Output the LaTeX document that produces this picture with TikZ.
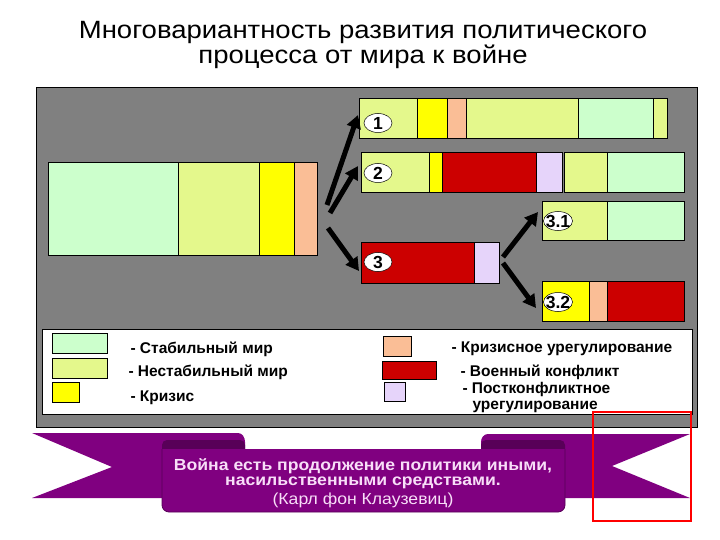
\documentclass[tikz,border=0pt]{standalone}
\usepackage{fontspec}
\setmainfont{Liberation Sans}
\newfontfamily\widefont[FakeStretch=1.1]{Liberation Sans}
\usepackage{xcolor}
\usepackage{tikz}
\usetikzlibrary{arrows.meta,shapes.geometric}

\definecolor{stablec}{RGB}{204,255,204}
\definecolor{unstablec}{RGB}{228,248,140}
\definecolor{crisisc}{RGB}{255,255,0}
\definecolor{settlec}{RGB}{250,190,150}
\definecolor{warc}{RGB}{204,0,0}
\definecolor{postc}{RGB}{230,212,250}
\definecolor{panelc}{RGB}{128,128,128}
\definecolor{ribbonc}{RGB}{128,0,128}
\definecolor{foldc}{RGB}{88,0,88}
\definecolor{quotec}{RGB}{248,222,248}

\begin{document}
\begin{tikzpicture}[x=1pt,y=-1pt,
    numtag/.style={ellipse,draw=black,fill=white,line width=0.5pt,inner xsep=-3pt,
        inner ysep=0pt,minimum width=28pt,minimum height=19pt,
        font=\fontsize{17.5}{17.5}\selectfont\bfseries},
    fork/.style={line width=5pt,-{Triangle[length=13pt,width=14pt]}},
    legendtext/.style={anchor=west,font=\fontsize{15.5}{16}\selectfont\bfseries,align=left},
    quote/.style={text=quotec,font=\widefont\fontsize{16}{16}\selectfont\bfseries}]
    \useasboundingbox (0,0) rectangle (720,540);

    \node[font=\widefont\fontsize{25}{25}\selectfont] (title1) at (363,32)
        {Многовариантность развития политического};
    \node[font=\widefont\fontsize{25}{25}\selectfont] (title2) at (363,57)
        {процесса от мира к войне};

    \fill[panelc] (36,88) rectangle (697,427);
    \draw[black,line width=1pt] (36,88) rectangle (697,427);

    \newcommand{\drawbar}[3]{%
        \foreach \xa/\xb/\c in {#3} {
            \fill[\c] (\xa,#1) rectangle (\xb,#2);
            \draw[black,line width=0.8pt] (\xa,#1) rectangle (\xb,#2);
        }
    }
    \drawbar{162}{255}{48/178/stablec,178/259/unstablec,259/294/crisisc,294/317/settlec}
    \drawbar{98}{138}{359/417/unstablec,417/447/crisisc,447/466/settlec,
        466/578/unstablec,578/653/stablec,653/667/unstablec}
    \drawbar{152}{192}{361/429/unstablec,429/442/crisisc,442/536/warc,536/562/postc,
        564/607/unstablec,607/684/stablec}
    \drawbar{201}{240}{542/607/unstablec,607/684/stablec}
    \drawbar{242}{283}{361/474/warc,474/499/postc}
    \drawbar{281}{321}{542/589/crisisc,589/607/settlec,607/684/warc}

    \node[numtag] (tag1) at (378,123) {1};
    \node[numtag] (tag2) at (378,173) {2};
    \node[numtag] (tag3) at (378,262) {3};
    \node[numtag,minimum width=29pt] (tag31) at (558,221) {3.1};
    \node[numtag,minimum width=29pt] (tag32) at (558,302) {3.2};

    \coordinate (from1) at (327,205);  \coordinate (to1) at (358,115);
    \coordinate (from2) at (330,213);  \coordinate (to2) at (358,166);
    \coordinate (from3) at (328,228);  \coordinate (to3) at (359,271);
    \coordinate (from31) at (503,257); \coordinate (to31) at (538,212);
    \coordinate (from32) at (503,263); \coordinate (to32) at (536,308);
    \foreach \a/\b in {from1/to1,from2/to2,from3/to3,from31/to31,from32/to32}
        \draw[fork] (\a) -- (\b);

    \fill[white] (42,329) rectangle (692,414);
    \draw[black,line width=0.8pt] (42,329) rectangle (692,414);
    \foreach \xa/\ya/\xb/\yb/\c in {52/333/107/353/stablec,52/358/107/378/unstablec,
        52/382/79/402/crisisc,383/336/411/356/settlec,382/361/436/379/warc,
        384/382/405/401/postc}
        \draw[black,line width=0.6pt,fill=\c] (\xa,\ya) rectangle (\xb,\yb);
    \node[legendtext] (stable) at (127,349) {- Стабильный мир};
    \node[legendtext] (unstable) at (125,372) {- Нестабильный мир};
    \node[legendtext] (crisis) at (127,398) {- Кризис};
    \node[legendtext] (settle) at (448,349) {- Кризисное урегулирование};
    \node[legendtext] (war) at (457,372) {- Военный конфликт};
    \node[legendtext] (post) at (459,397)
        {- Постконфликтное\\\hspace*{10pt}урегулирование};

    \fill[ribbonc] (32,433) -- (238,433) to[out=0,in=90] (245,442) -- (245,498)
        -- (32,498) -- (112,467) -- cycle;
    \fill[ribbonc] (690,434) -- (488,434) to[out=180,in=90] (481,442) -- (481,498)
        -- (690,498) -- (612,466) -- cycle;
    \fill[foldc,rounded corners=5pt] (162,440) rectangle (245,454);
    \fill[foldc,rounded corners=5pt] (481,440) rectangle (565,454);
    \draw[foldc,fill=ribbonc,line width=0.8pt,rounded corners=7pt]
        (162,449) -- (162,512) -- (565,512) -- (565,449);
    \node[quote] (quote1) at (363,466) {Война есть продолжение политики иными,};
    \node[quote] (quote2) at (363,483) {насильственными средствами.};
    \node[quote,font=\widefont\fontsize{16}{16}\selectfont] (quote3) at (363,500)
        {(Карл фон Клаузевиц)};

    \draw[red,line width=2pt] (593,412) rectangle (691,521);
\end{tikzpicture}
\end{document}
